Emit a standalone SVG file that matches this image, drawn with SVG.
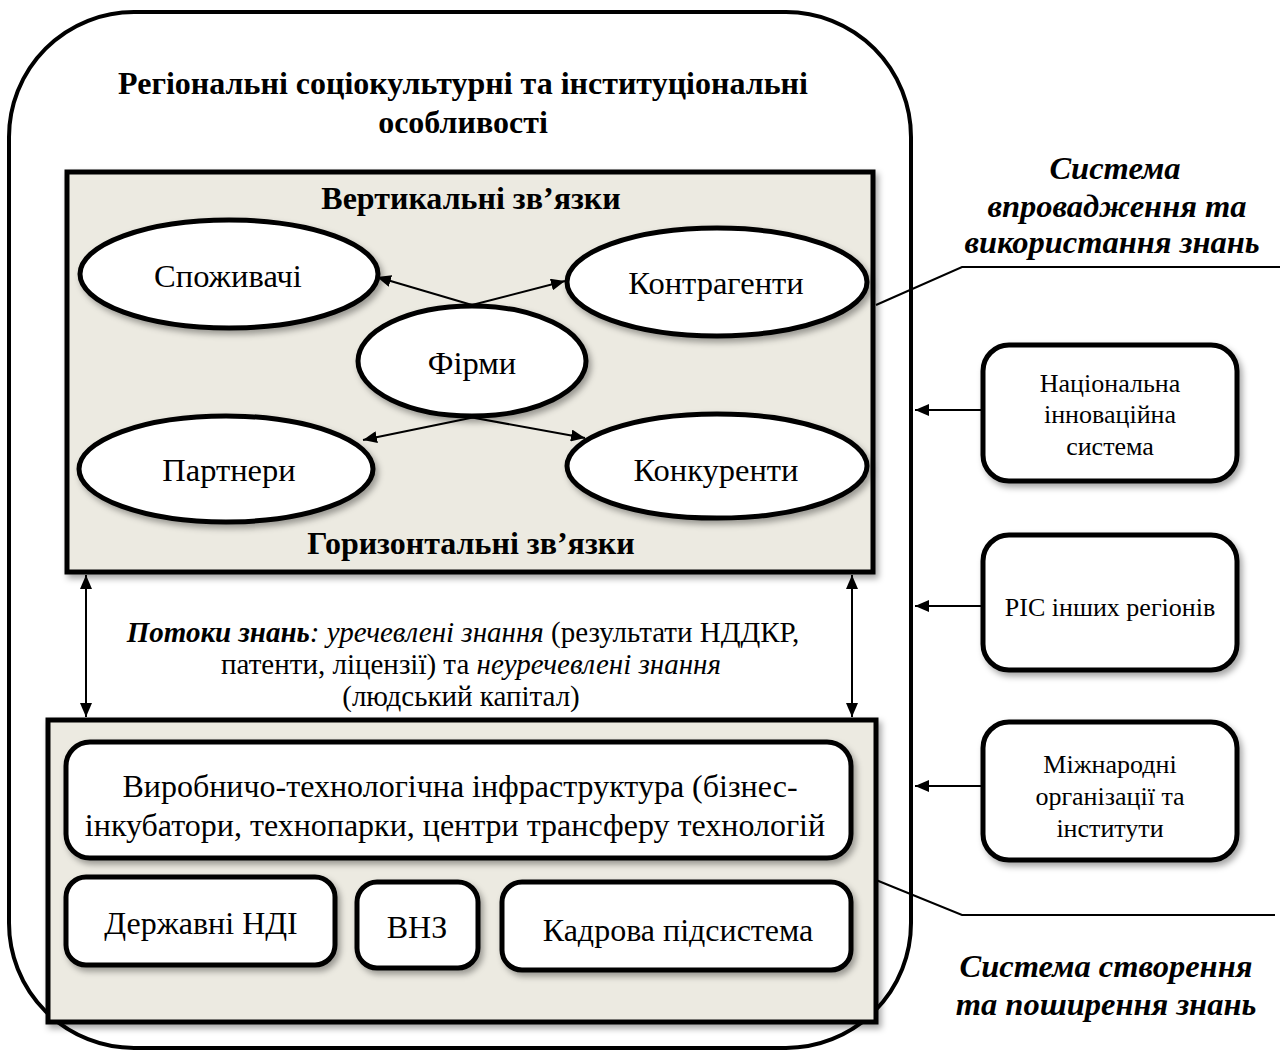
<svg xmlns="http://www.w3.org/2000/svg" width="1280" height="1057" viewBox="0 0 1280 1057" font-family="'Liberation Serif', 'Times New Roman', 'DejaVu Serif', serif">
<style>
text{font-family:"Liberation Serif","Times New Roman","DejaVu Serif",serif;fill:#000}
.b{font-weight:bold}
.bi{font-weight:bold;font-style:italic}
.box{fill:#fff;stroke:#000;stroke-width:5}
.pan{fill:#ECEAE1;stroke:#000;stroke-width:5}
.ell{fill:#fff;stroke:#000;stroke-width:5}
.ln{stroke:#000;stroke-width:2;fill:none}
</style>
<defs>
<marker id="ah2" viewBox="0 0 10 10" refX="10" refY="5" markerWidth="14" markerHeight="12" markerUnits="userSpaceOnUse" orient="auto-start-reverse" preserveAspectRatio="none">
<path d="M0,0 L10,5 L0,10 z" fill="#000"/>
</marker>
<filter id="sh" x="-10%" y="-10%" width="125%" height="130%">
<feDropShadow dx="3" dy="4" stdDeviation="3" flood-color="#000" flood-opacity="0.35"/>
</filter>
</defs>

<g id="outer">
<rect x="9" y="12" width="902" height="1036" rx="125" ry="125" fill="#fff" stroke="#000" stroke-width="4"/>
<text class="b" x="463" y="94" font-size="32" text-anchor="middle">Регіональні соціокультурні та інституціональні</text>
<text class="b" x="463" y="133" font-size="32" text-anchor="middle">особливості</text>
</g>

<g id="upper-panel">
<rect class="pan" x="67" y="172" width="806" height="400" filter="url(#sh)"/>
<text class="b" x="471" y="209" font-size="32" text-anchor="middle">Вертикальні зв’язки</text>
<text class="b" x="471" y="554" font-size="32" text-anchor="middle">Горизонтальні зв’язки</text>
</g>

<g id="node-spozhyvachi">
<ellipse class="ell" cx="229" cy="274" rx="149" ry="54" filter="url(#sh)"/>
<text x="228" y="287" font-size="32.5" text-anchor="middle">Споживачі</text>
</g>
<g id="node-kontrahenty">
<ellipse class="ell" cx="717" cy="282" rx="150" ry="54" filter="url(#sh)"/>
<text x="716" y="294" font-size="32.5" text-anchor="middle">Контрагенти</text>
</g>
<g id="node-firmy">
<ellipse class="ell" cx="472" cy="361" rx="114" ry="55" filter="url(#sh)"/>
<text x="472" y="374" font-size="32.5" text-anchor="middle">Фірми</text>
</g>
<g id="node-partnery">
<ellipse class="ell" cx="226" cy="469" rx="147" ry="53" filter="url(#sh)"/>
<text x="229" y="481" font-size="32.5" text-anchor="middle">Партнери</text>
</g>
<g id="node-konkurenty">
<ellipse class="ell" cx="717" cy="466" rx="150" ry="52" filter="url(#sh)"/>
<text x="716" y="481" font-size="32.5" text-anchor="middle">Конкуренти</text>
</g>

<g id="lower-panel">
<rect class="pan" x="48" y="720" width="828" height="302" filter="url(#sh)"/>
</g>
<g id="node-infra">
<rect class="box" x="66" y="742" width="785" height="116" rx="24" filter="url(#sh)"/>
<text x="460" y="797" font-size="32" text-anchor="middle">Виробничо-технологічна інфраструктура (бізнес-</text>
<text x="455" y="836" font-size="32" text-anchor="middle">інкубатори, технопарки, центри трансферу технологій</text>
</g>
<g id="node-ndi">
<rect class="box" x="66" y="877" width="269" height="88" rx="20" filter="url(#sh)"/>
<text x="201" y="934" font-size="32" text-anchor="middle">Державні НДІ</text>
</g>
<g id="node-vnz">
<rect class="box" x="357" y="882" width="121" height="86" rx="20" filter="url(#sh)"/>
<text x="417" y="938" font-size="32" text-anchor="middle">ВНЗ</text>
</g>
<g id="node-kadrova">
<rect class="box" x="502" y="882" width="349" height="88" rx="20" filter="url(#sh)"/>
<text x="678" y="941" font-size="32" text-anchor="middle">Кадрова підсистема</text>
</g>

<g id="node-nis">
<rect class="box" x="983" y="345" width="254" height="136" rx="26" filter="url(#sh)"/>
<text x="1110" y="392" font-size="26" text-anchor="middle">Національна</text>
<text x="1110" y="423" font-size="26" text-anchor="middle">інноваційна</text>
<text x="1110" y="455" font-size="26" text-anchor="middle">система</text>
</g>
<g id="node-ris">
<rect class="box" x="983" y="535" width="254" height="135" rx="26" filter="url(#sh)"/>
<text x="1110" y="616" font-size="26" text-anchor="middle">РІС інших регіонів</text>
</g>
<g id="node-mizhnarodni">
<rect class="box" x="983" y="722" width="254" height="138" rx="26" filter="url(#sh)"/>
<text x="1110" y="773" font-size="26" text-anchor="middle">Міжнародні</text>
<text x="1110" y="805" font-size="26" text-anchor="middle">організації та</text>
<text x="1110" y="837" font-size="26" text-anchor="middle">інститути</text>
</g>

<g id="label-vprovadzhennia">
<text class="bi" x="1115" y="179" font-size="32.5" text-anchor="middle">Система</text>
<text class="bi" x="1117" y="217" font-size="32.5" text-anchor="middle">впровадження та</text>
<text class="bi" x="1112" y="253" font-size="32.5" text-anchor="middle">використання знань</text>
</g>
<g id="label-stvorennia">
<text class="bi" x="1106" y="977" font-size="32.5" text-anchor="middle">Система створення</text>
<text class="bi" x="1106" y="1015" font-size="32.5" text-anchor="middle">та поширення знань</text>
</g>

<g id="label-flows">
<text x="463" y="642" font-size="29" text-anchor="middle"><tspan class="bi">Потоки знань</tspan><tspan font-style="italic">: уречевлені знання</tspan> (результати НДДКР,</text>
<text x="471" y="674" font-size="29" text-anchor="middle">патенти, ліцензії) та <tspan font-style="italic">неуречевлені знання</tspan></text>
<text x="461" y="706" font-size="29" text-anchor="middle">(людський капітал)</text>
</g>

<g id="connectors">
<line class="ln" x1="472" y1="305" x2="377" y2="277" marker-end="url(#ah2)"/>
<line class="ln" x1="472" y1="305" x2="565" y2="281" marker-end="url(#ah2)"/>
<line class="ln" x1="480" y1="416" x2="363" y2="440" marker-end="url(#ah2)"/>
<line class="ln" x1="464" y1="416" x2="585" y2="438" marker-end="url(#ah2)"/>
<line class="ln" x1="86" y1="575" x2="86" y2="717" marker-start="url(#ah2)" marker-end="url(#ah2)"/>
<line class="ln" x1="852" y1="575" x2="852" y2="717" marker-start="url(#ah2)" marker-end="url(#ah2)"/>
<line class="ln" stroke-width="2.5" x1="983" y1="410" x2="915" y2="410" marker-end="url(#ah2)"/>
<line class="ln" stroke-width="2.5" x1="983" y1="606" x2="915" y2="606" marker-end="url(#ah2)"/>
<line class="ln" stroke-width="2.5" x1="983" y1="786" x2="915" y2="786" marker-end="url(#ah2)"/>
<polyline class="ln" points="876,305 962,267 1280,267"/>
<polyline class="ln" points="876,880 962,915 1275,915"/>
</g>
</svg>
